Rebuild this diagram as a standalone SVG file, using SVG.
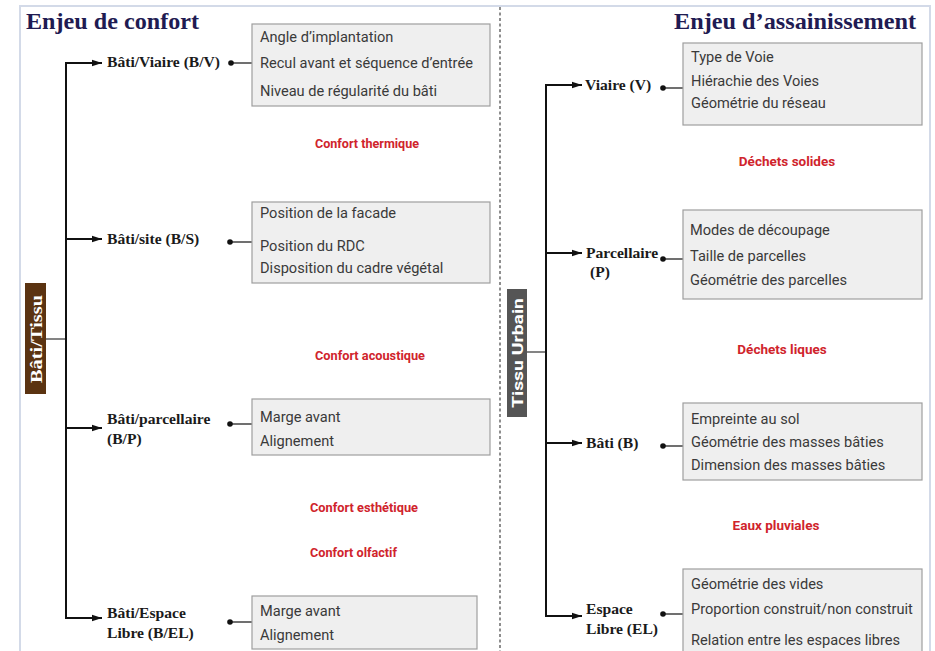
<svg xmlns="http://www.w3.org/2000/svg" width="935" height="651" viewBox="0 0 935 651">
  <defs>
    <marker id="arrow" viewBox="0 0 10 8" refX="10" refY="4" markerWidth="10" markerHeight="8" markerUnits="userSpaceOnUse" orient="auto">
      <path d="M0,0.8 L10,4 L0,7.2 Z" fill="#111"/>
    </marker>
    <marker id="dot" viewBox="0 0 6 6" refX="3" refY="3" markerWidth="6" markerHeight="6" markerUnits="userSpaceOnUse">
      <circle cx="3" cy="3" r="2.8" fill="#111"/>
    </marker>
  </defs>
  <style>
    .title { font-family: "Liberation Serif", serif; font-weight: bold; font-size: 24px; fill: #1f1b52; }
    .lbl { font-family: "Liberation Serif", serif; font-weight: bold; font-size: 15.6px; fill: #1a1a1a; }
    .item { font-family: Roboto, "Liberation Sans", sans-serif; font-size: 14.6px; fill: #3a3a3a; }
    .issue { font-family: Roboto, "Liberation Sans", sans-serif; font-weight: bold; font-size: 13.5px; fill: #d0242c; }
    .box { fill: #efefef; stroke: #9e9e9e; stroke-width: 1.2; }
    .trunk { fill: none; stroke: #111; stroke-width: 2; }
    .branch { fill: none; stroke: #111; stroke-width: 1.8; marker-end: url(#arrow); }
    .link { fill: none; stroke: #222; stroke-width: 1.3; marker-start: url(#dot); }
    .stub { fill: none; stroke: #777; stroke-width: 1.8; }
  </style>

  <rect width="935" height="651" fill="#ffffff"/>
  <!-- outer frame -->
  <rect x="20" y="6" width="910" height="660" fill="none" stroke="#d3dae8" stroke-width="2"/>
  <!-- divider between the two panels -->
  <line x1="500" y1="7" x2="500" y2="651" stroke="#444" stroke-width="1.2" stroke-dasharray="3 2.5"/>

  <!-- panel titles -->
  <text class="title" x="26" y="29" textLength="173" lengthAdjust="spacingAndGlyphs">Enjeu de confort</text>
  <text class="title" x="674" y="29" textLength="242" lengthAdjust="spacingAndGlyphs">Enjeu d’assainissement</text>

  <!-- connectors -->
  <g id="connectors">
    <!-- left tree -->
    <line class="stub" x1="46" y1="339" x2="66" y2="339"/>
    <path class="trunk" d="M66,63 V619"/>
    <path class="branch" d="M65,63 H102"/>
    <path class="branch" d="M66,239 H102"/>
    <path class="branch" d="M66,428 H102"/>
    <path class="branch" d="M65,618 H102"/>
    <line class="link" x1="231" y1="63" x2="252" y2="63"/>
    <line class="link" x1="230" y1="242" x2="252" y2="242"/>
    <line class="link" x1="230" y1="424" x2="252" y2="424"/>
    <line class="link" x1="230" y1="622" x2="252" y2="622"/>
    <!-- right tree -->
    <line class="stub" x1="527" y1="352" x2="546" y2="352"/>
    <path class="trunk" d="M546,85 V617"/>
    <path class="branch" d="M545,85 H582"/>
    <path class="branch" d="M546,253 H582"/>
    <path class="branch" d="M546,443 H582"/>
    <path class="branch" d="M545,616 H582"/>
    <line class="link" x1="663" y1="88" x2="683" y2="88"/>
    <line class="link" x1="663" y1="259" x2="683" y2="259"/>
    <line class="link" x1="663" y1="446" x2="683" y2="446"/>
    <line class="link" x1="663" y1="614" x2="683" y2="614"/>
  </g>

  <!-- left root -->
  <g id="bati-tissu">
    <rect x="25" y="283" width="21" height="111" fill="#5b3311"/>
    <text transform="translate(41.5,339) rotate(-90)" text-anchor="middle" font-family="Liberation Serif, serif" font-weight="bold" font-size="17" fill="#ffffff" textLength="88" lengthAdjust="spacingAndGlyphs">Bâti/Tissu</text>
  </g>

  <g id="bv">
    <text class="lbl" x="107" y="67">Bâti/Viaire (B/V)</text>
  </g>
  <g id="bv-criteria">
    <rect class="box" x="252" y="24" width="238" height="82"/>
    <text class="item" x="260" y="42">Angle d’implantation</text>
    <text class="item" x="260" y="68">Recul avant et séquence d’entrée</text>
    <text class="item" x="260" y="96">Niveau de régularité du bâti</text>
  </g>

  <g id="bs">
    <text class="lbl" x="107" y="244">Bâti/site (B/S)</text>
  </g>
  <g id="bs-criteria">
    <rect class="box" x="252" y="202" width="238" height="81"/>
    <text class="item" x="260" y="218">Position de la facade</text>
    <text class="item" x="260" y="251">Position du RDC</text>
    <text class="item" x="260" y="273">Disposition du cadre végétal</text>
  </g>

  <g id="bp">
    <text class="lbl" x="107" y="424">Bâti/parcellaire</text>
    <text class="lbl" x="107" y="444">(B/P)</text>
  </g>
  <g id="bp-criteria">
    <rect class="box" x="252" y="399" width="238" height="56"/>
    <text class="item" x="260" y="422">Marge avant</text>
    <text class="item" x="260" y="446">Alignement</text>
  </g>

  <g id="bel">
    <text class="lbl" x="107" y="618">Bâti/Espace</text>
    <text class="lbl" x="107" y="638">Libre (B/EL)</text>
  </g>
  <g id="bel-criteria">
    <rect class="box" x="252" y="596" width="225" height="53"/>
    <text class="item" x="260" y="616">Marge avant</text>
    <text class="item" x="260" y="640">Alignement</text>
  </g>

  <g id="comfort-issues">
    <text class="issue" x="315" y="148" textLength="104" lengthAdjust="spacingAndGlyphs">Confort thermique</text>
    <text class="issue" x="315" y="360" textLength="110" lengthAdjust="spacingAndGlyphs">Confort acoustique</text>
    <text class="issue" x="310" y="512" textLength="108" lengthAdjust="spacingAndGlyphs">Confort esthétique</text>
    <text class="issue" x="310" y="557" textLength="87" lengthAdjust="spacingAndGlyphs">Confort olfactif</text>
  </g>

  <!-- right root -->
  <g id="tissu-urbain">
    <rect x="507" y="289" width="20" height="128" fill="#555555"/>
    <text transform="translate(522.5,353) rotate(-90)" text-anchor="middle" font-family="Roboto, Liberation Sans, sans-serif" font-weight="bold" font-size="15.5" fill="#ffffff" textLength="110" lengthAdjust="spacingAndGlyphs">Tissu Urbain</text>
  </g>

  <g id="v">
    <text class="lbl" x="585" y="90">Viaire (V)</text>
  </g>
  <g id="v-criteria">
    <rect class="box" x="683" y="43" width="239" height="82"/>
    <text class="item" x="691" y="62">Type de Voie</text>
    <text class="item" x="691" y="86">Hiérachie des Voies</text>
    <text class="item" x="691" y="108">Géométrie du réseau</text>
  </g>

  <g id="p">
    <text class="lbl" x="586" y="258">Parcellaire</text>
    <text class="lbl" x="590" y="277">(P)</text>
  </g>
  <g id="p-criteria">
    <rect class="box" x="683" y="210" width="239" height="89"/>
    <text class="item" x="690" y="235">Modes de découpage</text>
    <text class="item" x="690" y="261">Taille de parcelles</text>
    <text class="item" x="690" y="285">Géométrie des parcelles</text>
  </g>

  <g id="b">
    <text class="lbl" x="586" y="448">Bâti (B)</text>
  </g>
  <g id="b-criteria">
    <rect class="box" x="683" y="403" width="239" height="77"/>
    <text class="item" x="691" y="424">Empreinte au sol</text>
    <text class="item" x="691" y="447">Géométrie des masses bâties</text>
    <text class="item" x="691" y="470">Dimension des masses bâties</text>
  </g>

  <g id="el">
    <text class="lbl" x="586" y="614">Espace</text>
    <text class="lbl" x="586" y="634">Libre (EL)</text>
  </g>
  <g id="el-criteria">
    <rect class="box" x="683" y="569" width="239" height="90"/>
    <text class="item" x="691" y="589">Géométrie des vides</text>
    <text class="item" x="691" y="614">Proportion construit/non construit</text>
    <text class="item" x="691" y="645">Relation entre les espaces libres</text>
  </g>

  <g id="sanitation-issues">
    <text class="issue" x="787" y="166" text-anchor="middle">Déchets solides</text>
    <text class="issue" x="782" y="354" text-anchor="middle">Déchets liques</text>
    <text class="issue" x="776" y="530" text-anchor="middle">Eaux pluviales</text>
  </g>
</svg>
